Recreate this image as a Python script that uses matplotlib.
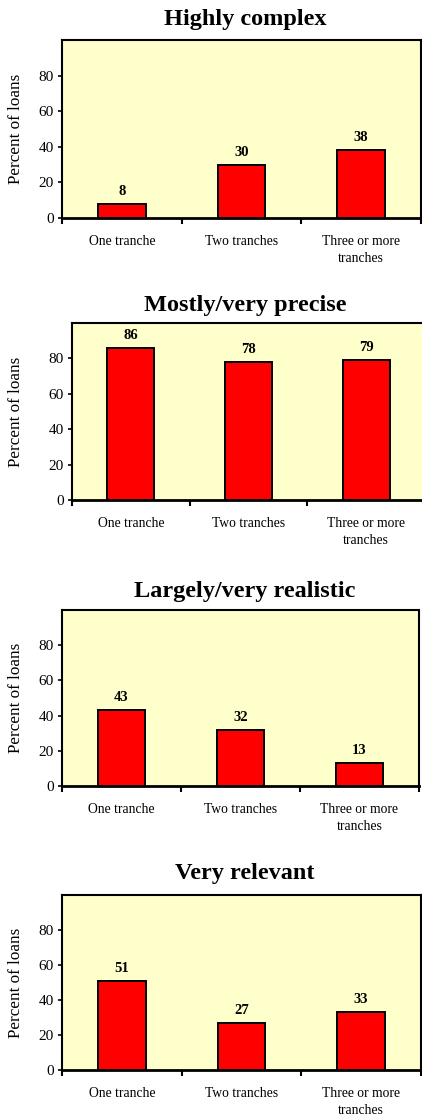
import numpy as np
import matplotlib.pyplot as plt

plt.rcParams['font.family'] = ['Liberation Serif', 'DejaVu Serif']

categories = ['One tranche', 'Two tranches', 'Three or more\ntranches']
titles = ['Highly complex', 'Mostly/very precise', 'Largely/very realistic', 'Very relevant']
highly_complex = [8, 30, 38]
mostly_precise = [86, 78, 79]
largely_realistic = [43, 32, 13]
very_relevant = [51, 27, 33]
series = [highly_complex, mostly_precise, largely_realistic, very_relevant]
yticks = [0, 20, 40, 60, 80]

W, H = 422, 1115
fig = plt.figure(figsize=(W / 100, H / 100), dpi=100)

# plot-area boxes in pixels: left, right, top, bottom
boxes = [(62, 421, 40, 218), (72, 425, 323, 500), (62, 419, 610, 786), (62, 421, 895, 1070)]
title_y = [19, 305, 591, 873]

x = np.arange(len(categories))
for vals, title, (l, r, t, b), ty in zip(series, titles, boxes, title_y):
    ax = fig.add_axes([l / W, 1 - b / H, (r - l) / W, (b - t) / H])
    ax.set_facecolor('#ffffcc')
    ax.bar(x, vals, width=0.4, color='#ff0000', edgecolor='black', linewidth=1.4, zorder=3)
    for xi, v in zip(x, vals):
        ax.annotate(str(v), (xi, v), xytext=(0, 9), textcoords='offset points',
                    ha='center', va='center', fontsize=10.5, fontweight='bold')
    ax.set_xlim(-0.5, 2.5)
    ax.set_ylim(0, 100)
    ax.set_yticks(yticks)
    ax.tick_params(axis='y', direction='out', length=3, width=1.2, labelsize=11, pad=3)
    ax.set_xticks([-0.5, 0.5, 1.5, 2.5])
    ax.set_xticklabels([])
    ax.tick_params(axis='x', which='major', direction='out', length=4, width=1.5)
    ax.set_xticks(x, minor=True)
    ax.set_xticklabels(categories, minor=True, fontsize=9.8, linespacing=1.4)
    ax.tick_params(axis='x', which='minor', length=0, pad=12)
    for s in ax.spines.values():
        s.set_linewidth(1.5)
    ax.spines['bottom'].set_linewidth(2)
    ax.set_ylabel('Percent of loans', fontsize=12.3)
    ax.yaxis.set_label_coords((24 - l) / (r - l), 0.5)
    fig.text(245 / W, 1 - ty / H, title, ha='center', va='center',
             fontsize=17.5, fontweight='bold')

fig.savefig('out.png', dpi=100)
